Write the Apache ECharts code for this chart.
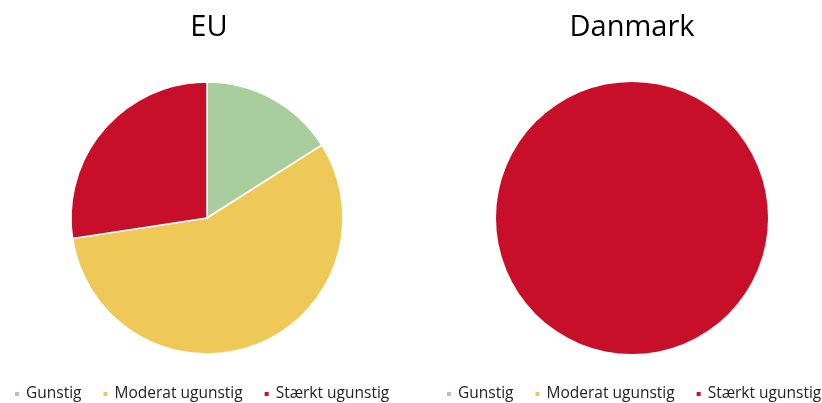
<!DOCTYPE html>
<html>
<head>
<meta charset="utf-8">
<script src="https://cdn.jsdelivr.net/npm/echarts@6/dist/echarts.min.js"></script>
<style>
  html, body { margin: 0; padding: 0; background: #fff; }
  #chart { width: 822px; height: 403px; }
</style>
</head>
<body>
<div id="chart"></div>
<script>
  // categories and values
  const categories = ['Gunstig', 'Moderat ugunstig', 'Stærkt ugunstig'];
  const euValues = [16, 56.6, 27.4];
  const dkValues = [0, 0, 100];
  const titles = ['EU', 'Danmark'];
  const palette = ['#A9CE9E', '#EFC957', '#C80F29'];

  const toData = (vals) => categories.map((name, i) => ({ name: name, value: vals[i] }));

  const legendBase = {
    icon: 'rect',
    itemWidth: 6,
    itemHeight: 6,
    itemGap: 20,
    top: 386,
    padding: 0,
    width: 420,
    selectedMode: false,
    textStyle: { fontFamily: 'Open Sans', fontSize: 15.5, color: '#222', padding: [0, 0, 0, 1] },
    data: categories
  };

  const chart = echarts.init(document.getElementById('chart'));
  chart.setOption({
    color: palette,
    animation: false,
    title: [
      { text: titles[0], left: 204, top: 8, textAlign: 'center',
        textStyle: { fontFamily: 'Open Sans', fontSize: 29, fontWeight: 'normal', color: '#000' } },
      { text: titles[1], left: 627, top: 8, textAlign: 'center',
        textStyle: { fontFamily: 'Open Sans', fontSize: 29, fontWeight: 'normal', color: '#000' } }
    ],
    legend: [
      Object.assign({}, legendBase, { left: 13 }),
      Object.assign({}, legendBase, { left: 445 })
    ],
    series: [
      {
        type: 'pie',
        center: [207, 218],
        radius: 136,
        startAngle: 90,
        label: { show: false },
        labelLine: { show: false },
        emphasis: { disabled: true },
        itemStyle: { borderColor: '#fff', borderWidth: 1.5 },
        data: toData(euValues)
      },
      {
        type: 'pie',
        center: [632, 218],
        radius: 136,
        startAngle: 90,
        label: { show: false },
        labelLine: { show: false },
        emphasis: { disabled: true },
        itemStyle: { borderWidth: 0 },
        data: toData(dkValues)
      }
    ]
  });
</script>
</body>
</html>
